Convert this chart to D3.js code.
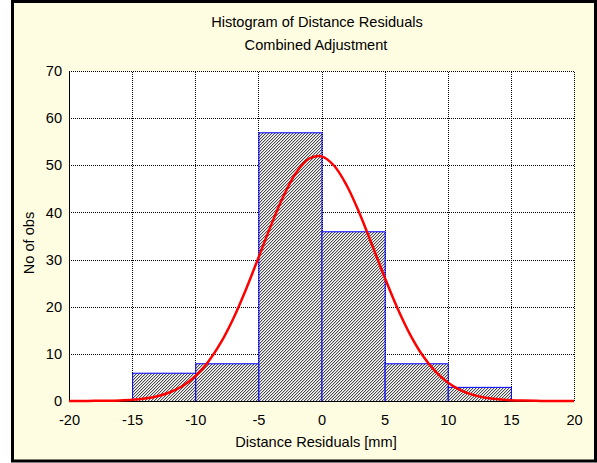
<!DOCTYPE html>
<html lang="en">
  <head>
    <meta charset="utf-8">
    <title>Histogram of Distance Residuals</title>
    <script type="text/javascript" src="https://d3js.org/d3.v7.min.js"></script>
    <style>
    body {
      margin:0;
      background-color:#ffffff;
    }
    text {
      font-family:"Liberation Sans", Arial, sans-serif;
      fill:#000000;
    }
    </style>
  </head>
  <body>
    <div id="chart"></div>
    <script type="text/javascript">
    // data
    const binStart = [-15, -10, -5, 0, 5, 10];
    const binEnd = [-10, -5, 0, 5, 10, 15];
    const counts = [6, 8, 57, 36, 8, 3];
    const curveX = [-20, -19, -18, -17, -16, -15, -14, -13, -12, -11, -10, -9, -8, -7, -6, -5, -4, -3, -2, -1, 0,
                    1, 2, 3, 4, 5, 6, 7, 8, 9, 10, 11, 12, 13, 14, 15, 16, 17, 18, 19, 20];
    const curveY = [0.00, 0.01, 0.03, 0.06, 0.13, 0.27, 0.54, 1.02, 1.85, 3.19, 5.25, 8.23, 12.26, 17.41, 23.56, 30.36, 37.25, 43.53, 48.46, 51.38, 51.89,
                    49.90, 45.71, 39.88, 33.14, 26.23, 19.77, 14.19, 9.70, 6.32, 3.92, 2.32, 1.30, 0.70, 0.36, 0.17, 0.08, 0.04, 0.01, 0.00, 0.00];
    const xTicks = [-20, -15, -10, -5, 0, 5, 10, 15, 20];
    const yTicks = [0, 10, 20, 30, 40, 50, 60, 70];

    const width = 597, height = 463;
    const svg = d3.select("#chart").append("svg").attr("width", width).attr("height", height);
    const x = d3.scaleLinear().domain([-20, 20]).range([69, 574]);
    const y = d3.scaleLinear().domain([0, 70]).range([401, 71]);
    const label = d => String(d);// plain hyphen, not the unicode minus

// frame
    svg.append("rect").attr("x", 12.5).attr("y", 1.5).attr("width", 583).attr("height", 459.5)
      .attr("fill", "#fffde1").attr("stroke", "#000000").attr("stroke-width", 3);

// hatch for the bars
    const pat = svg.append("defs").append("pattern").attr("id", "hatch")
      .attr("patternUnits", "userSpaceOnUse").attr("width", 3).attr("height", 3);
    pat.append("rect").attr("width", 3).attr("height", 3).attr("fill", "#ffffff");
    [[0, 2], [1, 1], [2, 0]].forEach(p => pat.append("rect").attr("x", p[0]).attr("y", p[1]).attr("width", 1).attr("height", 1).attr("fill", "#4a4a4a"));
    [[1, 2], [2, 1], [0, 0]].forEach(p => pat.append("rect").attr("x", p[0]).attr("y", p[1]).attr("width", 1).attr("height", 1).attr("fill", "#c8c8c8"));

// plot area
    svg.append("rect").attr("x", x(-20)).attr("y", y(70)).attr("width", x(20) - x(-20)).attr("height", y(0) - y(70))
      .attr("fill", "#ffffff");

// grid
    svg.append("g").attr("transform", `translate(0,${y(0)})`)
      .call(d3.axisBottom(x).tickValues(xTicks).tickSize(-(y(0) - y(70))).tickFormat(""))
      .call(g => g.select(".domain").remove())
      .call(g => g.selectAll("line").attr("stroke", "#000000").attr("stroke-dasharray", "1,1").attr("shape-rendering", "crispEdges"));
    svg.append("g").attr("transform", `translate(${x(-20)},0)`)
      .call(d3.axisLeft(y).tickValues(yTicks).tickSize(-(x(20) - x(-20))).tickFormat(""))
      .call(g => g.select(".domain").remove())
      .call(g => g.selectAll("line").attr("stroke", "#000000").attr("stroke-dasharray", "1,1").attr("shape-rendering", "crispEdges"));

// bars
    svg.append("g").selectAll("rect").data(counts).join("rect")
      .attr("x", (d, i) => x(binStart[i]) + 0.5)
      .attr("y", d => y(d) + 0.5)
      .attr("width", (d, i) => x(binEnd[i]) - x(binStart[i]))
      .attr("height", d => y(0) - y(d))
      .attr("fill", "url(#hatch)").attr("stroke", "#0000ff").attr("stroke-width", 1);

// axis lines
    svg.append("line").attr("x1", x(-20)).attr("x2", x(20)).attr("y1", y(0) + 0.5).attr("y2", y(0) + 0.5)
      .attr("stroke", "#000000");
    svg.append("line").attr("x1", x(-20) + 0.5).attr("x2", x(-20) + 0.5).attr("y1", y(70)).attr("y2", y(0))
      .attr("stroke", "#000000");

// fitted curve
    const line = d3.line().x((d, i) => x(curveX[i])).y(d => y(d)).curve(d3.curveCatmullRom);
    svg.append("path").datum(curveY).attr("fill", "none").attr("stroke", "#ff0000").attr("stroke-width", 2.5)
      .attr("d", line);

// tick labels
    svg.append("g").attr("transform", `translate(0,${y(0)})`)
      .call(d3.axisBottom(x).tickValues(xTicks).tickSize(0).tickPadding(14).tickFormat(label))
      .call(g => g.select(".domain").remove())
      .call(g => g.selectAll("text").attr("font-size", "14.6px").attr("font-family", null));
    svg.append("g").attr("transform", `translate(${x(-20)},0)`)
      .call(d3.axisLeft(y).tickValues(yTicks).tickSize(0).tickPadding(7).tickFormat(label))
      .call(g => g.select(".domain").remove())
      .call(g => g.selectAll("text").attr("font-size", "14.6px").attr("font-family", null));

// titles
    svg.append("text").attr("x", 317).attr("y", 27).attr("text-anchor", "middle").attr("font-size", "14.6px")
      .text("Histogram of Distance Residuals");
    svg.append("text").attr("x", 316).attr("y", 50).attr("text-anchor", "middle").attr("font-size", "14.6px")
      .text("Combined Adjustment");
    svg.append("text").attr("x", 316).attr("y", 447).attr("text-anchor", "middle").attr("font-size", "14.6px")
      .text("Distance Residuals [mm]");
    svg.append("text").attr("transform", "translate(34,243) rotate(-90)").attr("text-anchor", "middle").attr("font-size", "14.6px")
      .text("No of obs");
    </script>
  </body>
</html>
